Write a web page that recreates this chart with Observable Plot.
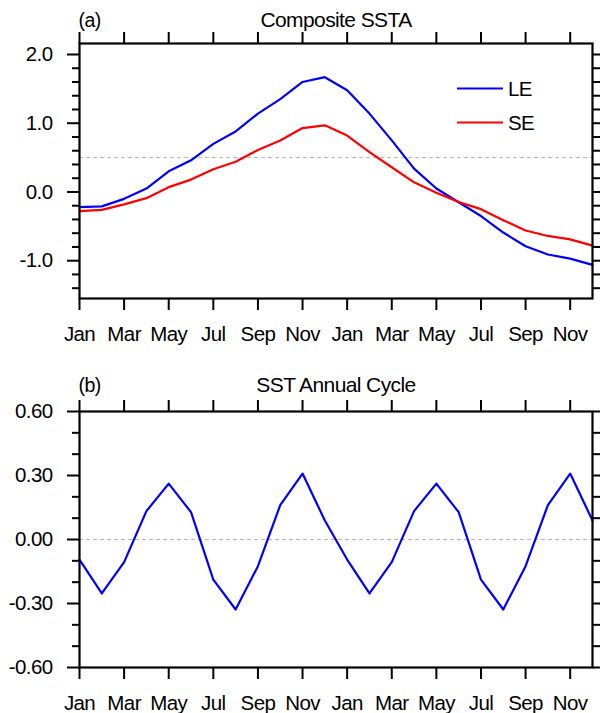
<!DOCTYPE html>
<html>
<head>
<meta charset="utf-8">
<script src="https://cdn.jsdelivr.net/npm/d3@7"></script>
<script src="https://cdn.jsdelivr.net/npm/@observablehq/plot@0.6"></script>
<style>
  html, body { margin: 0; padding: 0; background: #fff; }
  #wrap { width: 600px; height: 713px; position: relative; overflow: hidden; }
  #wrap svg { display: block; }
  #wrap svg text { letter-spacing: -0.6px; }
</style>
</head>
<body>
<div id="wrap"></div>
<script>
// Month labels for the 24-month axis
const months = ["Jan","Feb","Mar","Apr","May","Jun","Jul","Aug","Sep","Oct","Nov","Dec",
                "Jan","Feb","Mar","Apr","May","Jun","Jul","Aug","Sep","Oct","Nov","Dec"];
const xTicks = [0, 2, 4, 6, 8, 10, 12, 14, 16, 18, 20, 22];

// (a) Composite SSTA
const le = [-0.22, -0.21, -0.10, 0.05, 0.30, 0.46, 0.70, 0.88, 1.14, 1.35, 1.60, 1.67,
            1.48, 1.14, 0.75, 0.34, 0.05, -0.15, -0.35, -0.59, -0.79, -0.91, -0.97, -1.06];
const se = [-0.28, -0.26, -0.18, -0.09, 0.07, 0.18, 0.33, 0.44, 0.61, 0.75, 0.93, 0.97,
            0.82, 0.58, 0.36, 0.14, -0.01, -0.145, -0.25, -0.41, -0.56, -0.64, -0.69, -0.78];
const seriesNames = ["LE", "SE"];
const seriesColors = ["#0000ff", "#ff0000"];
const refLineA = [0.5];
const yMajorA = [-1, 0, 1, 2];
const yMinorA = [-1.4, -1.2, -0.8, -0.6, -0.4, -0.2, 0.2, 0.4, 0.6, 0.8, 1.2, 1.4, 1.6, 1.8];

// (b) SST Annual Cycle
const annualCycle = [-0.094, -0.253, -0.106, 0.133, 0.262, 0.128, -0.188, -0.328, -0.125, 0.161, 0.309, 0.089,
                     -0.094, -0.253, -0.106, 0.133, 0.262, 0.128, -0.188, -0.328, -0.125, 0.161, 0.309, 0.089];
const refLineB = [0];
const yMajorB = [-0.6, -0.3, 0, 0.3, 0.6];
const yMinorB = [-0.5, -0.4, -0.2, -0.1, 0.1, 0.2, 0.4, 0.5];

const rows = months.map((m, i) => ({i, m, le: le[i], se: se[i], ac: annualCycle[i]}));

const font = "'Liberation Sans', Arial, Helvetica, sans-serif";
const tickW = 2;
const fs = 20.5;

function frameAxes(yMajor, yMinor, fmt) {
  return [
    Plot.axisX({anchor: "bottom", ticks: xTicks, tickSize: 12, tickPadding: 16, tickFormat: i => months[i],
                fontSize: fs, label: null, strokeWidth: tickW}),
    Plot.axisX({anchor: "top", ticks: xTicks, tickSize: 12, fill: "none", label: null, strokeWidth: tickW}),
    Plot.axisY({anchor: "left", ticks: yMajor, tickSize: 12, tickPadding: 15, tickFormat: fmt,
                fontSize: fs, label: null, strokeWidth: tickW}),
    Plot.axisY({anchor: "left", ticks: yMinor, tickSize: 7, fill: "none", label: null, strokeWidth: tickW}),
    Plot.axisY({anchor: "right", ticks: yMajor, tickSize: 12, fill: "none", label: null, strokeWidth: tickW}),
    Plot.axisY({anchor: "right", ticks: yMinor, tickSize: 7, fill: "none", label: null, strokeWidth: tickW}),
    Plot.frame({strokeWidth: 2.2})
  ];
}

const plotA = Plot.plot({
  width: 600, height: 360,
  marginTop: 43, marginBottom: 62, marginLeft: 79, marginRight: 8,
  style: {fontFamily: font, fontSize: "20px", background: "white", color: "black"},
  x: {domain: [0, 23], axis: null},
  y: {domain: [-1.55, 2.16], axis: null},
  marks: [
    Plot.ruleY(refLineA, {stroke: "#b8b8b8", strokeDasharray: "4,3", strokeWidth: 1}),
    Plot.line(rows, {x: "i", y: "le", stroke: seriesColors[0], strokeWidth: 2.2}),
    Plot.line(rows, {x: "i", y: "se", stroke: seriesColors[1], strokeWidth: 2.2}),
    ...frameAxes(yMajorA, yMinorA, d => d.toFixed(1)),
    Plot.text(["(a)"], {frameAnchor: "top-left", textAnchor: "start", lineAnchor: "bottom", dx: -1, dy: -17, fontSize: 19.5}),
    Plot.text(["Composite SSTA"], {frameAnchor: "top", lineAnchor: "bottom", dy: -17, fontSize: 21})
  ]
});

// legend (inside panel a)
{
  const s = d3.select(plotA);
  const g = s.append("g").attr("font-family", font).attr("font-size", fs).attr("text-anchor", "start");
  const ys = [88.5, 122.5];
  seriesNames.forEach((name, k) => {
    g.append("line").attr("x1", 457).attr("x2", 503).attr("y1", ys[k]).attr("y2", ys[k])
      .attr("stroke", seriesColors[k]).attr("stroke-width", 2.2);
    g.append("text").attr("x", 508).attr("y", ys[k]).attr("dy", "0.35em")
      .attr("text-anchor", "start").attr("fill", "black").text(name);
  });
}

const plotB = Plot.plot({
  width: 600, height: 353,
  marginTop: 51, marginBottom: 46, marginLeft: 79, marginRight: 8,
  style: {fontFamily: font, fontSize: "20px", background: "white", color: "black"},
  x: {domain: [0, 23], axis: null},
  y: {domain: [-0.6, 0.6], axis: null},
  marks: [
    Plot.ruleY(refLineB, {stroke: "#b8b8b8", strokeDasharray: "4,3", strokeWidth: 1}),
    Plot.line(rows, {x: "i", y: "ac", stroke: "#0000ff", strokeWidth: 2.2}),
    ...frameAxes(yMajorB, yMinorB, d => d.toFixed(2)),
    Plot.text(["(b)"], {frameAnchor: "top-left", textAnchor: "start", lineAnchor: "bottom", dx: -1, dy: -20, fontSize: 19.5}),
    Plot.text(["SST Annual Cycle"], {frameAnchor: "top", lineAnchor: "bottom", dy: -20, fontSize: 21})
  ]
});

const wrap = document.getElementById("wrap");
wrap.appendChild(plotA);
wrap.appendChild(plotB);
</script>
</body>
</html>
